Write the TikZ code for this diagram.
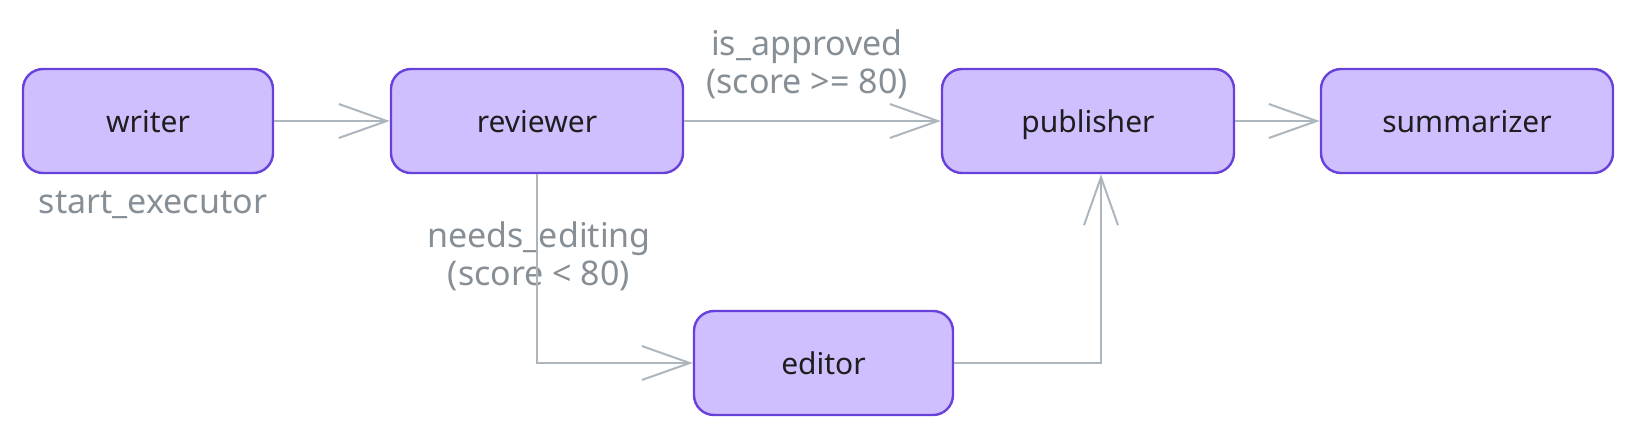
\documentclass[tikz,border=0pt]{standalone}
\usepackage{fontspec}
\setmainfont{Noto Sans}
\usetikzlibrary{arrows.meta}
\definecolor{boxfill}{HTML}{D0BFFF}
\definecolor{boxline}{HTML}{6741D9}
\definecolor{conn}{HTML}{ADB5BD}
\definecolor{lbl}{HTML}{868E96}
\definecolor{ink}{HTML}{1E1E1E}
\begin{document}
\begin{tikzpicture}[x=0.5pt,y=-0.5pt,
  stepbox/.style={draw=boxline, fill=boxfill, line width=1.2pt, rounded corners=10pt,
    minimum height=52pt, inner sep=0pt, text height=12pt, text depth=1pt, text=ink,
    font=\fontsize{15}{18}\selectfont},
  lab/.style={text=lbl, align=center, inner sep=0pt, font=\fontsize{17}{19}\selectfont},
  conn/.style={draw=conn, line width=1pt, -{Straight Barb[length=24pt,width=17pt]}}]
\useasboundingbox (0,0) rectangle (1630,436);
\node[stepbox, minimum width=125pt] (writer) at (148,121) {writer};
\node[stepbox, minimum width=146pt] (reviewer) at (537,121) {reviewer};
\node[stepbox, minimum width=146pt] (publisher) at (1088,121) {publisher};
\node[stepbox, minimum width=146pt] (summarizer) at (1467,121) {summarizer};
\node[stepbox, minimum width=129.5pt] (editor) at (823.5,363) {editor};
\node[lab] (se) at (153,205) {start\_executor};
\node[lab] (ia) at (807,64) {is\_approved\\(score >= 80)};
\node[lab] (ne) at (539,256) {needs\_editing\\(score < 80)};
\coordinate (pin) at ([xshift=6.5pt]publisher.south);
\draw[conn] (writer.east) -- (reviewer.west);
\draw[conn] (reviewer.east) -- (publisher.west);
\draw[conn] (publisher.east) -- (summarizer.west);
\draw[conn] (reviewer.south) |- (editor.west);
\draw[conn] (editor.east) -| (pin);
\end{tikzpicture}
\end{document}
